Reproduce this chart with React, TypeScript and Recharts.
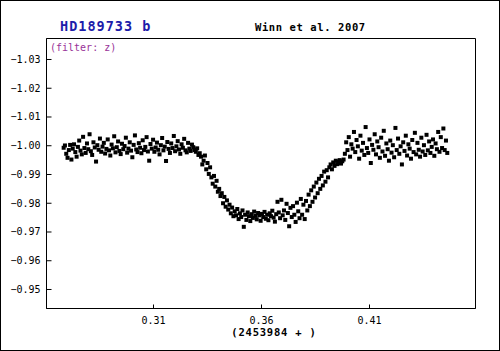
import React from "react";
import { ScatterChart, Scatter, XAxis, YAxis, ReferenceArea } from "recharts";

const preTimes = [
  0.2684, 0.269, 0.2696, 0.2702, 0.2708, 0.2714, 0.272, 0.2726, 0.2732, 0.2738,
  0.2744, 0.275, 0.2756, 0.2762, 0.2768, 0.2774, 0.278, 0.2786, 0.2792, 0.2798,
  0.2804, 0.281, 0.2816, 0.2822, 0.2828, 0.2834, 0.284, 0.2846, 0.2852, 0.2858,
  0.2864, 0.287, 0.2876, 0.2882, 0.2888, 0.2894, 0.29, 0.2906, 0.2912, 0.2918,
  0.2924, 0.293, 0.2936, 0.2942, 0.2948, 0.2954, 0.296, 0.2966, 0.2972, 0.2978,
  0.2984, 0.299, 0.2996, 0.3002, 0.3008, 0.3014, 0.302, 0.3026, 0.3032, 0.3038,
  0.3044, 0.305, 0.3056, 0.3062, 0.3068, 0.3074, 0.308, 0.3086, 0.3092, 0.3098,
  0.3104, 0.311, 0.3116, 0.3122, 0.3128, 0.3134, 0.314, 0.3146, 0.3152, 0.3158,
  0.3164, 0.317, 0.3176, 0.3182, 0.3188, 0.3194, 0.32, 0.3206, 0.3212, 0.3218,
  0.3224, 0.323, 0.3236, 0.3242, 0.3248, 0.3254, 0.326, 0.3266, 0.3272, 0.3278,
  0.3284, 0.329, 0.3296, 0.3302, 0.3308, 0.3314,
];
const preFlux = [
  -0.9993, -1.0001, -0.9972, -0.9958, -0.9985, -1.0003, -0.9952, -0.999, -1.0005, -0.9978,
  -0.9962, -0.9996, -1.0018, -0.9983, -0.997, -1.0031, -0.9992, -0.9975, -1.0008, -0.9988,
  -1.004, -0.9981, -0.9968, -1.0012, -0.9994, -0.9945, -1.0002, -0.9986, -1.0025, -0.9979,
  -0.9997, -1.001, -0.9973, -0.9989, -1.0022, -0.9984, -0.9966, -1.0004, -0.9991, -1.0033,
  -0.9977, -0.9995, -1.0015, -0.9982, -0.9971, -1.0007, -0.9988, -0.9999, -1.0028, -0.9976,
  -0.999, -1.0012, -0.9983, -0.996, -1.0003, -1.0036, -0.9987, -0.9978, -1.0009, -0.9993,
  -0.9974, -1.0019, -0.9985, -0.9996, -1.003, -0.998, -0.9948, -1.0006, -0.999, -1.0021,
  -0.9979, -0.9994, -1.0011, -0.9986, -0.997, -1.0002, -1.0027, -0.9984, -0.9997, -0.9947,
  -1.0013, -0.9989, -0.9975, -1.0008, -0.9992, -1.0034, -0.9981, -0.9998, -1.0016, -0.9987,
  -0.9972, -1.0005, -0.9993, -1.0024, -0.9984, -0.9977, -1.001, -0.999, -0.9982, -1.0004,
  -0.9995, -0.9985, -0.9979, -0.9991, -0.9968, -0.9974,
];

const ingressTimes = [
  0.332, 0.3326, 0.3332, 0.3338, 0.3344, 0.335, 0.3356, 0.3362, 0.3368, 0.3374,
  0.338, 0.3386, 0.3392, 0.3398, 0.3404, 0.341, 0.3416, 0.3422, 0.3428, 0.3434,
  0.344, 0.3446, 0.3452, 0.3458, 0.3464, 0.347,
];
const ingressFlux = [
  -0.9962, -0.9935, -0.9948, -0.9966, -0.9918, -0.994, -0.9902, -0.9925, -0.989, -0.9868,
  -0.9895, -0.9858, -0.9878, -0.984, -0.985, -0.9825, -0.9835, -0.98, -0.9822, -0.9788,
  -0.981, -0.9778, -0.9795, -0.9765, -0.9785, -0.9755,
];

const bottomTimes = [
  0.3476, 0.3482, 0.3488, 0.3494, 0.35, 0.3506, 0.3512, 0.3518, 0.3524, 0.353,
  0.3536, 0.3542, 0.3548, 0.3554, 0.356, 0.3566, 0.3572, 0.3578, 0.3584, 0.359,
  0.3596, 0.3602, 0.3608, 0.3614, 0.362, 0.3626, 0.3632, 0.3638, 0.3644, 0.365,
  0.3656, 0.3662, 0.3668, 0.3674, 0.368, 0.3686, 0.3692, 0.3698, 0.3704, 0.371,
  0.3716, 0.3722, 0.3728, 0.3734, 0.374, 0.3746, 0.3752, 0.3758, 0.3764, 0.377,
  0.3776, 0.3782,
];
const bottomFlux = [
  -0.9772, -0.9758, -0.978, -0.9745, -0.9765, -0.9752, -0.9775, -0.9718, -0.976, -0.9742,
  -0.9768, -0.9755, -0.9738, -0.9762, -0.9749, -0.9771, -0.9756, -0.9744, -0.9766, -0.9758,
  -0.9739, -0.9763, -0.9752, -0.977, -0.9746, -0.976, -0.9741, -0.9765, -0.9755, -0.9774,
  -0.975, -0.9736, -0.9762, -0.9805, -0.9768, -0.9748, -0.9812, -0.9758, -0.9775, -0.9742,
  -0.9798, -0.9766, -0.972, -0.9784, -0.9752, -0.979, -0.976, -0.9735, -0.9802, -0.9772,
  -0.9748, -0.9815,
];

const egressTimes = [
  0.3788, 0.3794, 0.38, 0.3806, 0.3812, 0.3818, 0.3824, 0.383, 0.3836, 0.3842,
  0.3848, 0.3854, 0.386, 0.3866, 0.3872, 0.3878, 0.3884, 0.389, 0.3896, 0.3902,
  0.3908, 0.3914, 0.392, 0.3926, 0.3932, 0.3938, 0.3944, 0.395, 0.3956, 0.3962,
  0.3968, 0.3974, 0.398,
];
const egressFlux = [
  -0.976, -0.9795, -0.9745, -0.9808, -0.9775, -0.983, -0.979, -0.9845, -0.9805, -0.9858,
  -0.982, -0.9872, -0.9835, -0.9885, -0.985, -0.9895, -0.9862, -0.991, -0.9875, -0.9915,
  -0.989, -0.9925, -0.9935, -0.9918, -0.9942, -0.993, -0.9948, -0.9936, -0.9944, -0.995,
  -0.9938, -0.9946, -0.9952,
];

const postTimes = [
  0.3986, 0.3992, 0.3998, 0.4004, 0.401, 0.4016, 0.4022, 0.4028, 0.4034, 0.404,
  0.4046, 0.4052, 0.4058, 0.4064, 0.407, 0.4076, 0.4082, 0.4088, 0.4094, 0.41,
  0.4106, 0.4112, 0.4118, 0.4124, 0.413, 0.4136, 0.4142, 0.4148, 0.4154, 0.416,
  0.4166, 0.4172, 0.4178, 0.4184, 0.419, 0.4196, 0.4202, 0.4208, 0.4214, 0.422,
  0.4226, 0.4232, 0.4238, 0.4244, 0.425, 0.4256, 0.4262, 0.4268, 0.4274, 0.428,
  0.4286, 0.4292, 0.4298, 0.4304, 0.431, 0.4316, 0.4322, 0.4328, 0.4334, 0.434,
  0.4346, 0.4352, 0.4358, 0.4364, 0.437, 0.4376, 0.4382, 0.4388, 0.4394, 0.44,
  0.4406, 0.4412, 0.4418, 0.4424, 0.443, 0.4436, 0.4442, 0.4448, 0.4454, 0.446,
];
const postFlux = [
  -0.9972, -1.0012, -0.9985, -1.003, -0.9962, -1.0005, -0.999, -1.0048, -0.9978, -1.002,
  -0.9998, -0.9955, -1.0035, -0.9983, -1.001, -0.9968, -1.0065, -0.9992, -0.9975, -1.0022,
  -0.994, -1.0003, -0.9986, -1.004, -0.997, -1.0015, -0.9995, -0.9958, -1.0028, -0.998,
  -1.0052, -0.9965, -1.0008, -0.9988, -0.9948, -1.0018, -0.9976, -1.0002, -0.996, -1.0062,
  -0.9985, -1.0025, -0.9972, -0.9998, -0.9935, -1.0012, -0.9982, -1.0035, -0.9966, -1.0005,
  -0.999, -0.9955, -1.002, -0.9978, -1.0045, -0.997, -1.001, -0.9986, -0.9962, -1.0028,
  -0.998, -1.0002, -0.9968, -1.0038, -0.9984, -1.0015, -0.9975, -0.9996, -1.0022, -0.9965,
  -1.0008, -0.9988, -1.0048, -0.9979, -1.003, -0.9992, -1.006, -0.9985, -1.0018, -0.9975,
];

const xTicks = [0.31, 0.36, 0.41];
const yTicks = [-1.03, -1.02, -1.01, -1.0, -0.99, -0.98, -0.97, -0.96, -0.95];
const xDomain = [0.26046, 0.45907];
const yDomain = [-1.037304, -0.943391];

const TITLE = "HD189733 b";
const REF = "Winn et al. 2007";
const FILTER = "(filter: z)";
const XLABEL = "(2453984 + )";

const allTimes = [...preTimes, ...ingressTimes, ...bottomTimes, ...egressTimes, ...postTimes];
const allFlux = [...preFlux, ...ingressFlux, ...bottomFlux, ...egressFlux, ...postFlux];
const data = allTimes.map((t, i) => ({ t, f: allFlux[i] }));

const MONO = "'DejaVu Sans Mono', 'Liberation Mono', monospace";

const fmtY = (v: number) => v.toFixed(2).replace("-", "\u2212");

const YTick = (props: any) => {
  const { x, y, payload } = props;
  return (
    <g>
      <line x1={x} x2={x + 5} y1={y} y2={y} stroke="#000" strokeWidth={1} />
      <text x={x - 6} y={y} textAnchor="end" dominantBaseline="central" fontFamily={MONO} fontSize={10} fill="#000">
        {fmtY(payload.value)}
      </text>
    </g>
  );
};

const XTick = (props: any) => {
  const { x, y, payload } = props;
  return (
    <g>
      <line x1={x} x2={x} y1={y} y2={y - 4} stroke="#000" strokeWidth={1} />
      <text x={x} y={y + 12} textAnchor="middle" dominantBaseline="central" fontFamily={MONO} fontSize={10} fill="#000">
        {payload.value.toFixed(2)}
      </text>
    </g>
  );
};

const Square = (props: any) => {
  const { cx, cy } = props;
  return <rect x={cx - 2} y={cy - 2} width={4} height={4} fill="#000" />;
};

export default function App() {
  return (
    <div style={{ position: "absolute", left: 0, top: 0, width: 500, height: 351, background: "#fff" }}>
      <ScatterChart
        width={500}
        height={351}
        margin={{ top: 38.5, right: 24.5, bottom: 12.5, left: 0 }}
      >
        <XAxis
          xAxisId="b"
          dataKey="t"
          type="number"
          domain={xDomain}
          ticks={xTicks}
          allowDataOverflow
          height={30}
          tickSize={0}
          tickMargin={0}
          tickLine={false}
          axisLine={{ stroke: "#000", strokeWidth: 1 }}
          tick={<XTick />}
        />
        <YAxis
          yAxisId="l"
          dataKey="f"
          type="number"
          domain={yDomain}
          reversed
          ticks={yTicks}
          allowDataOverflow
          width={46.5}
          tickSize={0}
          tickMargin={0}
          tickLine={false}
          axisLine={{ stroke: "#000", strokeWidth: 1 }}
          tick={<YTick />}
        />
        <ReferenceArea
          xAxisId="b"
          yAxisId="l"
          x1={xDomain[0]}
          x2={xDomain[1]}
          y1={yDomain[0]}
          y2={yDomain[1]}
          fill="none"
          fillOpacity={0}
          stroke="#000"
          strokeWidth={1}
          strokeOpacity={1}
          ifOverflow="visible"
        />
        <Scatter xAxisId="b" yAxisId="l" data={data} shape={<Square />} isAnimationActive={false} />
      </ScatterChart>
      <svg width={500} height={351} style={{ position: "absolute", left: 0, top: 0, pointerEvents: "none" }}>
        <rect x={0.5} y={0.5} width={499} height={350} fill="none" stroke="#000" strokeWidth={1} />
        <text x={60} y={31} fontFamily={MONO} fontWeight="bold" fontSize={13.5} letterSpacing={1.0} fill="#1c1caa">
          {TITLE}
        </text>
        <text x={255} y={31} fontFamily={MONO} fontWeight="bold" fontSize={10.5} letterSpacing={0.6} fill="#000">
          {REF}
        </text>
        <text x={50} y={51} fontFamily={MONO} fontSize={10} fill="#993399">
          {FILTER}
        </text>
        <text x={274} y={336} textAnchor="middle" fontFamily={MONO} fontWeight="bold" fontSize={10.5} letterSpacing={0.8} fill="#000">
          {XLABEL}
        </text>
      </svg>
    </div>
  );
}
